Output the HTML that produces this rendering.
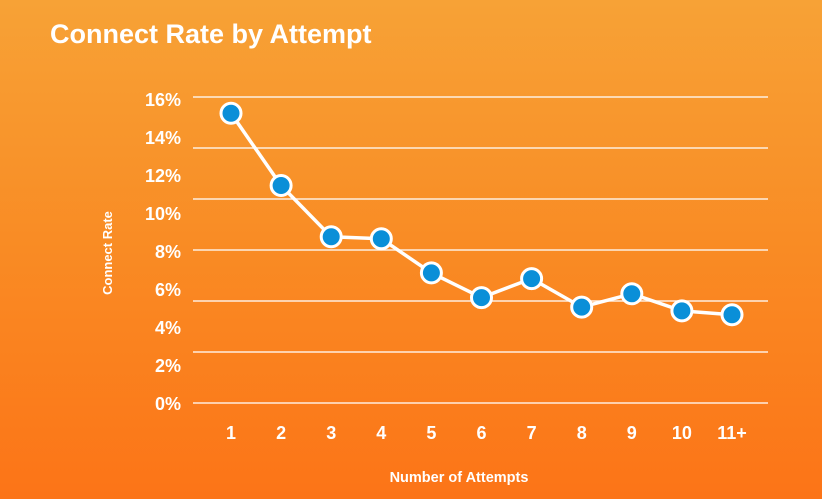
<!DOCTYPE html>
<html><head><meta charset="utf-8"><style>
html,body{margin:0;padding:0}
html{background:#FC7417}
body{width:822px;height:499px;overflow:hidden;background:linear-gradient(180deg,#F7A236 0%,#F98B24 50%,#FC7417 100%);font-family:"Liberation Sans",sans-serif}
svg{display:block}
svg text{font-family:"Liberation Sans",sans-serif;font-weight:bold;fill:#fff}
</style></head><body>
<svg width="822" height="499">
<text x="50" y="43" font-size="27">Connect Rate by Attempt</text>
<g id="grid"></g><g id="ylabels"></g><g id="xlabels"></g><g id="series"></g>
<text x="0" y="0" font-size="13" text-anchor="middle" transform="translate(112,253) rotate(-90)">Connect Rate</text>
<text x="459" y="482" font-size="14.5" text-anchor="middle">Number of Attempts</text>
</svg>
<script>
const categories=["1","2","3","4","5","6","7","8","9","10","11+"];
const values=[15.3,11.5,8.8,8.7,6.9,5.6,6.6,5.1,5.8,4.9,4.7];
const yTicks=[0,2,4,6,8,10,12,14,16];
const gridCount=7;
const NS="http://www.w3.org/2000/svg";
function xs(i){return 231+i*(732-231)/(categories.length-1);}
function ys(v){return 404-v*19;}
function mk(t,a,p){const e=document.createElementNS(NS,t);for(const k in a)e.setAttribute(k,a[k]);p.appendChild(e);return e;}
const grid=document.getElementById('grid');
for(let i=0;i<gridCount;i++){const y=97+i*51;
const l=mk('line',{x1:193,x2:768,y1:y,y2:y,stroke:'rgba(255,255,255,0.85)','stroke-width':1.5},grid);

}
const yl=document.getElementById('ylabels');
yTicks.forEach(v=>{const t=mk('text',{x:181,y:ys(v)+6,'font-size':18,'text-anchor':'end'},yl);t.textContent=v+'%';

});
const xl=document.getElementById('xlabels');
categories.forEach((c,i)=>{const t=mk('text',{x:xs(i),y:439,'font-size':18,'text-anchor':'middle'},xl);t.textContent=c;

});
const s=document.getElementById('series');
const pl=mk('polyline',{points:values.map((v,i)=>xs(i)+','+ys(v)).join(' '),fill:'none',stroke:'#fff','stroke-width':3.5,'stroke-linejoin':'round'},s);


values.forEach((v,i)=>{const c=mk('circle',{cx:xs(i),cy:ys(v),r:10,fill:'#0A8FD8',stroke:'#fff','stroke-width':3},s);

});
</script>
</body></html>
